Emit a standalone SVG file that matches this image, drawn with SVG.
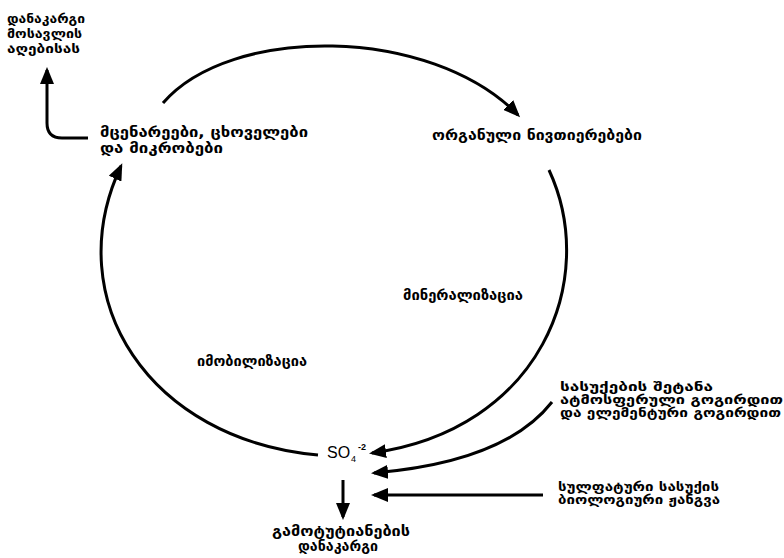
<svg xmlns="http://www.w3.org/2000/svg" width="784" height="558" viewBox="0 0 784 558">
  <style>
    .lbl { font-family: "DejaVu Sans", "Noto Sans", sans-serif; font-size: 14px; font-weight: bold; fill: #000; }
    .mid { font-size: 12.5px; }
    .tight { font-size: 11.5px; }
    .chem { font-family: "Liberation Sans", Arial, sans-serif; fill: #000; }
    .wire { fill: none; stroke: #000; stroke-width: 3; stroke-linecap: butt; marker-end: url(#head); }
  </style>
  <defs>
    <marker id="head" markerUnits="userSpaceOnUse" markerWidth="18" markerHeight="14" refX="14" refY="7" orient="auto">
      <path d="M0,0 L17,7 L0,14 z" fill="#000"/>
    </marker>
  </defs>
  <rect width="784" height="558" fill="#fff"/>

  <g id="connectors">
    <!-- harvest loss -->
    <path class="wire" d="M 88,138 L 62,138 Q 47,138 47,123 L 47,70"/>
    <!-- organisms to organic matter -->
    <path class="wire" d="M 163,103 C 230,25 430,25 518,115"/>
    <!-- mineralization -->
    <path class="wire" d="M 549,170 C 600,280 540,430 372,453"/>
    <!-- immobilization -->
    <path class="wire" d="M 318,455 C 150,440 58,300 121,166"/>
    <!-- fertilizer inputs -->
    <path class="wire" d="M 552,402 Q 505,462 374,473"/>
    <!-- biological oxidation -->
    <path class="wire" d="M 543,495 L 374,495"/>
    <!-- leaching -->
    <path class="wire" d="M 343,480 L 343,517"/>
  </g>

  <g id="harvest-loss">
    <text class="lbl mid" x="7" y="23" textLength="78" lengthAdjust="spacingAndGlyphs">დანაკარგი</text>
    <text class="lbl mid" x="7" y="38" textLength="75" lengthAdjust="spacingAndGlyphs">მოსავლის</text>
    <text class="lbl mid" x="7" y="53" textLength="73" lengthAdjust="spacingAndGlyphs">აღებისას</text>
  </g>

  <g id="organisms">
    <text class="lbl" x="100" y="137" textLength="208" lengthAdjust="spacingAndGlyphs">მცენარეები, ცხოველები</text>
    <text class="lbl" x="100" y="153" textLength="123" lengthAdjust="spacingAndGlyphs">და მიკრობები</text>
  </g>

  <g id="organic-matter">
    <text class="lbl" x="432" y="140" textLength="210" lengthAdjust="spacingAndGlyphs">ორგანული ნივთიერებები</text>
  </g>

  <g id="mineralization">
    <text class="lbl" x="403" y="300" textLength="120" lengthAdjust="spacingAndGlyphs">მინერალიზაცია</text>
  </g>

  <g id="immobilization">
    <text class="lbl" x="197" y="366" textLength="110" lengthAdjust="spacingAndGlyphs">იმობილიზაცია</text>
  </g>

  <g id="fertilizer-input">
    <text class="lbl tight" x="560" y="391" textLength="153" lengthAdjust="spacingAndGlyphs">სასუქების შეტანა</text>
    <text class="lbl tight" x="560" y="404" textLength="223" lengthAdjust="spacingAndGlyphs">ატმოსფერული გოგირდით</text>
    <text class="lbl tight" x="560" y="417" textLength="221" lengthAdjust="spacingAndGlyphs">და ელემენტური გოგირდით</text>
  </g>

  <g id="sulfate-oxidation">
    <text class="lbl tight" x="558" y="491" textLength="161" lengthAdjust="spacingAndGlyphs">სულფატური სასუქის</text>
    <text class="lbl tight" x="558" y="504" textLength="162" lengthAdjust="spacingAndGlyphs">ბიოლოგიური ჟანგვა</text>
  </g>

  <g id="sulfate">
    <text class="chem" x="327" y="458" font-size="16">SO</text>
    <text class="chem" x="351" y="462" font-size="9">4</text>
    <text class="chem" x="358" y="450" font-size="9" font-weight="bold">-2</text>
  </g>

  <g id="leaching-loss">
    <text class="lbl" x="272" y="536" textLength="138" lengthAdjust="spacingAndGlyphs">გამოტუტიანების</text>
    <text class="lbl" x="298" y="551" textLength="80" lengthAdjust="spacingAndGlyphs">დანაკარგი</text>
  </g>
</svg>
